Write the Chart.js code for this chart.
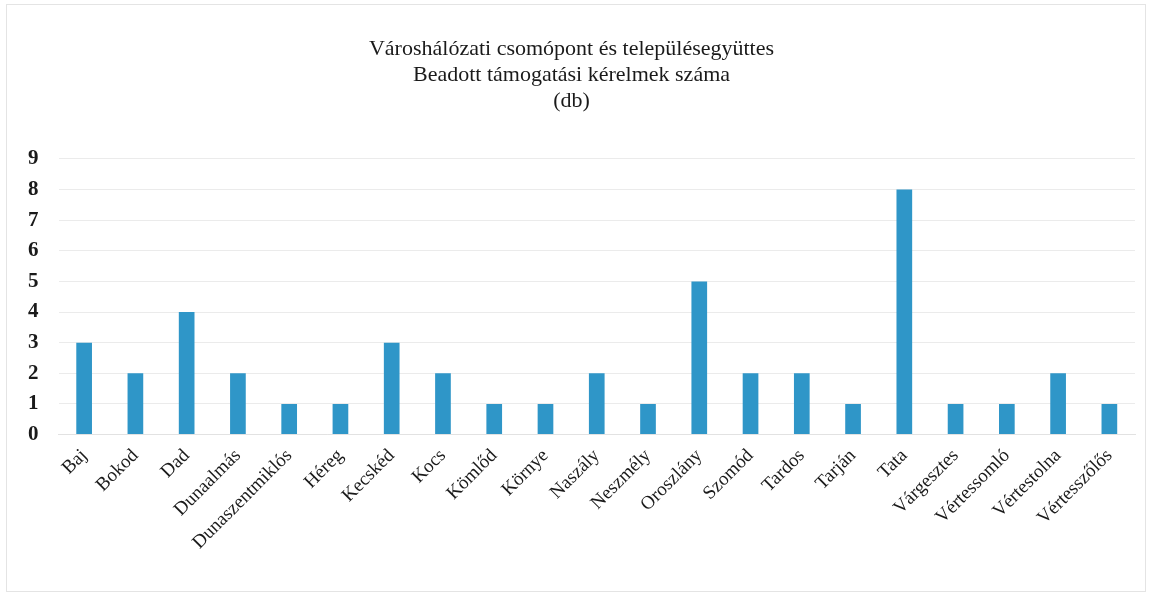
<!DOCTYPE html>
<html>
<head>
<meta charset="utf-8">
<script src="https://cdn.jsdelivr.net/npm/chart.js@4.4.1/dist/chart.umd.min.js"></script>
<style>
  html, body { margin:0; padding:0; background:#fff; }
  #wrap { position:absolute; left:0; top:0; width:1153px; height:597px; }
  #frame { position:absolute; left:6px; top:4px; width:1138px; height:586px; border:1px solid #e4e4e4; pointer-events:none; }
</style>
</head>
<body>
<div id="wrap"><canvas id="chart"></canvas></div>
<div id="frame"></div>
<script>
// Városhálózati csomópont és településegyüttes – beadott támogatási kérelmek (db)
const titleLines = ['Városhálózati csomópont és településegyüttes', 'Beadott támogatási kérelmek száma', '(db)'];

const towns = ['Baj','Bokod','Dad','Dunaalmás','Dunaszentmiklós','Héreg','Kecskéd','Kocs','Kömlőd','Környe',
  'Naszály','Neszmély','Oroszlány','Szomód','Tardos','Tarján','Tata','Várgesztes','Vértessomló','Vértestolna','Vértesszőlős'];

const requests = [3,2,4,2,1,1,3,2,1,1,2,1,5,2,2,1,8,1,1,2,1];

const yTicks = [0,1,2,3,4,5,6,7,8,9];

const serif = '"Liberation Serif", "Times New Roman", serif';

new Chart(document.getElementById('chart'), {
  type: 'bar',
  data: {
    labels: towns,
    datasets: [{ data: requests, backgroundColor: '#2f96c8', barPercentage: 0.9, categoryPercentage: 0.34 }]
  },
  options: {
    responsive: true,
    maintainAspectRatio: false,
    animation: false,
    layout: { padding: { left: 8, right: 18, top: 36, bottom: 41 } },
    plugins: {
      legend: { display: false },
      tooltip: { enabled: false },
      title: {
        display: true, text: titleLines, color: '#1a1a1a',
        font: { family: serif, size: 22, weight: 'normal', lineHeight: 1.18 },
        padding: { top: 0, bottom: 45 }
      }
    },
    scales: {
      x: {
        grid: { display: false },
        border: { color: '#e2e2e2' },
        ticks: { color: '#1a1a1a', font: { family: serif, size: 19 }, minRotation: 45, maxRotation: 45, padding: 2 }
      },
      y: {
        min: 0, max: 9,
        afterBuildTicks: axis => { axis.ticks = yTicks.map(v => ({ value: v })); },
        grid: { color: '#ebebeb', drawTicks: false },
        border: { display: false },
        ticks: { color: '#1a1a1a', font: { family: serif, size: 21, weight: 'bold' }, padding: 20 }
      }
    }
  }
});
</script>
</body>
</html>
